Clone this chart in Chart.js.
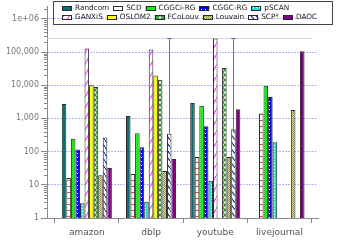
<!DOCTYPE html>
<html><head><meta charset="utf-8">
<script src="https://cdn.jsdelivr.net/npm/chart.js@4"></script>
<style>html,body{margin:0;padding:0;background:#fff}#wrap{width:339px;height:247px;position:relative}</style>
</head><body><div id="wrap"><canvas id="c" width="339" height="247"></canvas></div>
<script>
const categories = ['amazon', 'dblp', 'youtube', 'livejournal'];
const randcom = [2700, 1180, 2900, null];
const scd = [16, 21, 69, 1400];
const cggciRg = [245, 360, 2400, 9600];
const cggcRg = [116, 135, 580, 4400];
const pscan = [2.8, 3.1, 13.3, 190];
const ganxis = [127000, 120000, 257000, null];
const oslom2 = [10000, 19500, null, null];
const fcolouv = [8800, 14500, 33000, null];
const louvain = [19.5, 26, 69, 1800];
const scpStar = [265, 345, 470, null];
const daoc = [32, 60, 1900, 106000];
const scpUpper = [null, 270000, 270000, null];
const timeoutLimit = 270000;
const yTickValues = [1, 10, 100, 1000, 10000, 100000, 1000000];
const yTickLabels = ['1', '10', '100', '1,000', '10,000', '100,000', '1e+06'];

const canvas = document.getElementById('c');
const mainCtx = canvas.getContext('2d');
function pat(w, h, bg, draw) {
  const c = document.createElement('canvas'); c.width = w; c.height = h;
  const x = c.getContext('2d'); x.fillStyle = bg; x.fillRect(0, 0, w, h); draw(x);
  return mainCtx.createPattern(c, 'repeat');
}
const pSCD = pat(4, 6, '#ffffff', x => { x.fillStyle = '#ff3333'; x.fillRect(0, 0, 4, 1); });
const pCGGC = pat(4, 4, '#0000f0', x => { x.fillStyle = '#ffffff'; x.fillRect(1, 1, 1, 1); });
const pSCAN = pat(3, 3, '#20e0e0', x => { x.fillStyle = '#ffffff'; x.fillRect(1, 1, 1, 1); });
const pGAN = pat(6, 11, '#ffffff', x => { x.strokeStyle = '#ff44ff'; x.lineWidth = 1.2; x.beginPath(); x.moveTo(0, 11); x.lineTo(6, 0); x.stroke(); });
const pFCo = pat(5, 5, '#ffffff', x => { x.strokeStyle = '#2a8f2a'; x.lineWidth = 1.3; x.beginPath(); x.moveTo(0, 0); x.lineTo(5, 5); x.moveTo(5, 0); x.lineTo(0, 5); x.stroke(); });
const pLouv = pat(2, 2, '#e6e6a8', x => { x.fillStyle = '#8a8a30'; x.fillRect(0, 0, 1, 1); x.fillRect(1, 1, 1, 1); });
const pSCP = pat(5, 7, '#ffffff', x => { x.strokeStyle = '#1c1c90'; x.lineWidth = 1.1; x.beginPath(); x.moveTo(0, 0); x.lineTo(5, 7); x.stroke(); });

const seriesDefs = [
  ['Randcom', randcom, '#0b7070'],
  ['SCD', scd, pSCD],
  ['CGGCi-RG', cggciRg, '#10f010'],
  ['CGGC-RG', cggcRg, pCGGC],
  ['pSCAN', pscan, pSCAN],
  ['GANXiS', ganxis, pGAN],
  ['OSLOM2', oslom2, '#ffff00'],
  ['FCoLouv', fcolouv, pFCo],
  ['Louvain', louvain, pLouv],
  ['SCP*', scpStar, pSCP],
  ['DAOC', daoc, '#800080']
];

const datasets = seriesDefs.map(([label, vals, bg]) => ({
  label,
  data: vals.map((v, i) => ({ x: i, y: v })),
  backgroundColor: bg,
  borderColor: '#2a2a2a',
  borderWidth: ctx => (ctx.raw && ctx.raw.y != null ? 1 : 0),
  borderSkipped: 'start',
  categoryPercentage: 0.78,
  barPercentage: 1.0
}));

const extras = {
  id: 'extras',
  beforeDatasetsDraw(chart) {
    const { ctx, scales: { x, y } } = chart;
    const py = Math.round(y.getPixelForValue(timeoutLimit)) + 0.5;
    ctx.save();
    ctx.strokeStyle = '#d8d8d8'; ctx.lineWidth = 1;
    ctx.beginPath(); ctx.moveTo(chart.chartArea.left, py); ctx.lineTo(x.getPixelForValue(3.5), py); ctx.stroke();
    ctx.restore();
  },
  afterDatasetsDraw(chart) {
    const { ctx, scales: { x, y } } = chart;
    ctx.save();
    ctx.strokeStyle = '#888'; ctx.lineWidth = 1;
    const ax = chart.chartArea.left;
    ctx.beginPath();
    for (let d = 0; d <= 6; d++) {
      for (let m = 2; m <= 9; m++) {
        const v = m * Math.pow(10, d);
        if (v > y.max) continue;
        const py = Math.round(y.getPixelForValue(v)) + 0.5;
        ctx.moveTo(ax - 3, py); ctx.lineTo(ax, py);
      }
    }
    ctx.stroke();
    const idx = seriesDefs.findIndex(s => s[0] === 'SCP*');
    const meta = chart.getDatasetMeta(idx);
    ctx.strokeStyle = '#6a6acc'; ctx.lineWidth = 1;
    scpUpper.forEach((u, i) => {
      if (u == null || scpStar[i] == null) return;
      const el = meta.data[i];
      const px = Math.round(el.x) + 0.5;
      const y1 = y.getPixelForValue(scpStar[i]);
      const y2 = Math.round(y.getPixelForValue(u)) + 0.5;
      ctx.beginPath();
      ctx.moveTo(px, y1); ctx.lineTo(px, y2);
      ctx.moveTo(px - 2.5, y2); ctx.lineTo(px + 2.5, y2);
      ctx.stroke();
    });
    ctx.restore();
  },
  afterDraw(chart) {
    const ctx = chart.ctx;
    ctx.save();
    ctx.strokeStyle = '#444'; ctx.lineWidth = 1;
    ctx.strokeRect(53.5, 1.5, 279, 23);
    ctx.font = '7.3px "DejaVu Sans"';
    ctx.textBaseline = 'middle';
    const rowY = [8.5, 17];
    const startX = 62, maxX = 330, boxW = 10, boxH = 5;
    let xx = startX, row = 0;
    chart.data.datasets.forEach(ds => {
      const tw = ctx.measureText(ds.label).width;
      const w = boxW + 3 + tw;
      if (xx + w > maxX) { row++; xx = startX; }
      const cy = rowY[Math.min(row, rowY.length - 1)];
      const by = Math.round(cy - boxH / 2);
      ctx.fillStyle = ds.backgroundColor;
      ctx.fillRect(xx, by, boxW, boxH);
      ctx.strokeStyle = '#2a2a2a';
      ctx.strokeRect(Math.round(xx) + 0.5, by + 0.5, boxW - 1, boxH - 1);
      ctx.fillStyle = '#222';
      ctx.fillText(ds.label, xx + boxW + 3, cy);
      xx += w + 4;
    });
    ctx.restore();
  }
};

new Chart(canvas, {
  type: 'bar',
  data: { datasets },
  options: {
    responsive: false,
    animation: false,
    devicePixelRatio: 1,
    layout: { padding: { top: 0, right: 21, left: 0, bottom: 0 } },
    plugins: { legend: { display: false }, tooltip: { enabled: false } },
    scales: {
      x: {
        type: 'linear', min: -0.62, max: 3.6, offset: false,
        afterBuildTicks: s => { s.ticks = categories.map((c, i) => ({ value: i })); },
        afterFit: s => { s.height = 29; },
        border: { color: '#888', width: 1 },
        grid: { drawOnChartArea: false, tickColor: '#888', tickLength: 5 },
        ticks: { autoSkip: false, maxRotation: 0, padding: 4, color: '#555',
          font: { family: 'DejaVu Sans', size: 9 },
          callback: (v, i) => categories[i] }
      },
      y: {
        type: 'logarithmic', min: 1, max: 2300000,
        afterBuildTicks: s => { s.ticks = yTickValues.map(v => ({ value: v })); },
        afterFit: s => { s.width = 47; },
        border: { color: '#888', width: 1, dash: [2, 1] },
        grid: { color: '#b6b6ff', tickColor: '#888', tickLength: 6 },
        ticks: { autoSkip: false, padding: 2, color: '#777',
          font: { family: 'DejaVu Sans', size: 8 },
          callback: (v, i) => yTickLabels[i] }
      }
    }
  },
  plugins: [extras]
});
</script>
</body></html>
